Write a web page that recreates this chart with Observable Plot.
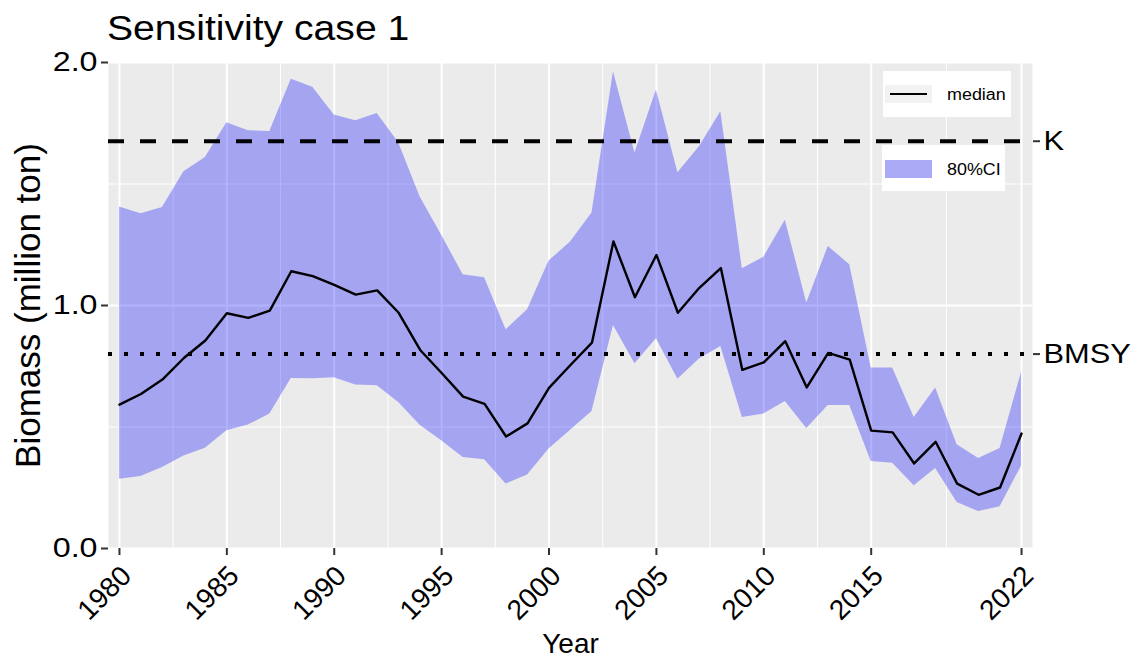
<!DOCTYPE html>
<html><head><meta charset="utf-8">
<script src="https://cdn.jsdelivr.net/npm/d3@7"></script>
<script src="https://cdn.jsdelivr.net/npm/@observablehq/plot@0.6"></script>
<style>
body{margin:0;background:#fff;font-family:"Liberation Sans",Arial,sans-serif;}
#wrap{position:relative;width:1133px;height:662px;overflow:hidden;}
#title{position:absolute;left:107px;top:0;font-size:35px;line-height:1;padding-top:10px;color:#000;white-space:nowrap;transform:scaleX(1.118);transform-origin:0 0;}
#chart{position:absolute;left:0;top:50px;}
.box{position:absolute;background:#fff;}
.key{position:absolute;}
.lab{position:absolute;font-size:16px;line-height:1;color:#000;white-space:nowrap;transform:translateY(-50%) scaleX(1.12);transform-origin:0 50%;}
</style>
</head><body>
<div id="wrap">
  <div id="title">Sensitivity case 1</div>
  <div id="chart"></div>
  <div class="box" style="left:883px;top:71px;width:128px;height:46px;"></div>
  <div class="key" style="left:885px;top:85px;width:47px;height:18px;background:#F2F2F2;"></div>
  <div class="key" style="left:890px;top:93px;width:37px;height:2.2px;background:#000;"></div>
  <div class="lab" id="lab1" style="left:947px;top:95px;"></div>
  <div class="box" style="left:882px;top:145px;width:123px;height:46px;"></div>
  <div class="key" style="left:885px;top:160px;width:47px;height:18px;background:#AAAAF6;"></div>
  <div class="lab" id="lab2" style="left:947px;top:170px;"></div>
</div>
<script>
const years = [1980,1981,1982,1983,1984,1985,1986,1987,1988,1989,1990,1991,1992,1993,1994,1995,1996,1997,1998,1999,2000,2001,2002,2003,2004,2005,2006,2007,2008,2009,2010,2011,2012,2013,2014,2015,2016,2017,2018,2019,2020,2021,2022];
const median = [0.592,0.636,0.695,0.784,0.856,0.968,0.949,0.979,1.141,1.121,1.085,1.045,1.062,0.970,0.817,0.722,0.625,0.595,0.461,0.515,0.661,0.755,0.847,1.264,1.034,1.208,0.970,1.073,1.154,0.735,0.766,0.853,0.663,0.805,0.777,0.485,0.478,0.350,0.439,0.267,0.221,0.251,0.473];
const lower = [0.285,0.296,0.333,0.381,0.413,0.485,0.508,0.553,0.700,0.699,0.703,0.673,0.670,0.601,0.507,0.443,0.375,0.365,0.265,0.302,0.409,0.487,0.564,0.918,0.760,0.863,0.696,0.780,0.831,0.539,0.553,0.605,0.494,0.588,0.588,0.358,0.351,0.258,0.329,0.189,0.152,0.172,0.340];
const upper = [1.405,1.378,1.403,1.550,1.609,1.752,1.719,1.716,1.931,1.898,1.784,1.760,1.790,1.670,1.447,1.289,1.127,1.114,0.900,0.982,1.183,1.261,1.381,1.962,1.628,1.887,1.546,1.653,1.797,1.151,1.199,1.351,1.010,1.243,1.168,0.743,0.743,0.539,0.661,0.427,0.370,0.412,0.725];
const refLevels = [1.676, 0.80];
const refLabels = ["K", "BMSY"];
const xMajor = [1980,1985,1990,1995,2000,2005,2010,2015,2022];
const xMinor = [1982.5,1987.5,1992.5,1997.5,2002.5,2007.5,2012.5,2018.5];
const yMajor = [0, 1, 2];
const yMinor = [0.5, 1.5];
const legendLabels = ["median", "80%CI"];
const xTitle = "Year";
const yTitle = "Biomass (million ton)";

document.getElementById("lab1").textContent = legendLabels[0];
document.getElementById("lab2").textContent = legendLabels[1];

const data = years.map((year, i) => ({year, median: median[i], lo: lower[i], hi: upper[i]}));
const font = '"Liberation Sans", Arial, sans-serif';

const chart = Plot.plot({
  width: 1133, height: 612,
  marginTop: 12, marginBottom: 114, marginLeft: 108, marginRight: 101,
  x: {domain: [1979.49, 2022.51], axis: null},
  y: {domain: [0, 2], axis: null},
  style: {fontFamily: font, background: "transparent", color: "#000", overflow: "visible"},
  marks: [
    Plot.frame({fill: "#EBEBEB", stroke: null}),
    Plot.ruleX(xMinor, {stroke: "#fff", strokeWidth: 1}),
    Plot.ruleY(yMinor, {stroke: "#fff", strokeWidth: 1}),
    Plot.ruleX(xMajor, {stroke: "#fff", strokeWidth: 2}),
    Plot.ruleY(yMajor, {stroke: "#fff", strokeWidth: 2}),
    Plot.areaY(data, {x: "year", y1: "lo", y2: "hi", fill: "blue", fillOpacity: 0.3}),
    Plot.ruleY([refLevels[0]], {stroke: "#000", strokeWidth: 4, strokeDasharray: "16,16"}),
    Plot.ruleY([refLevels[1]], {stroke: "#000", strokeWidth: 4, strokeDasharray: "4,12"}),
    Plot.line(data, {x: "year", y: "median", stroke: "#000", strokeWidth: 2.4}),
    Plot.axisY(yMajor, {anchor: "left", tickSize: 7, tickPadding: 4, tickFormat: d3.format(".1f"), fontSize: 28, stroke: "#333", strokeWidth: 2, fill: "#000", label: null}),
    Plot.axisY(refLevels, {anchor: "right", tickSize: 7, tickPadding: 4, tickFormat: d => refLabels[refLevels.indexOf(d)], fontSize: 28, stroke: "#333", strokeWidth: 2, fill: "#000", label: null}),
    Plot.axisX(xMajor, {anchor: "bottom", tickSize: 7, stroke: "#333", strokeWidth: 2, tickFormat: () => "", label: null}),
    Plot.text(xMajor, {x: d => d, frameAnchor: "bottom", text: d => String(d), rotate: -45, textAnchor: "end", lineAnchor: "top", dy: 15, dx: -0.5, fontSize: 28, fill: "#000"}),
    Plot.text([xTitle], {frameAnchor: "bottom", dy: 104, text: d => d, fontSize: 28, fill: "#000"}),
    Plot.text([yTitle], {frameAnchor: "left", dx: -80, rotate: -90, textAnchor: "middle", text: d => d, fontSize: 35, fill: "#000"})
  ]
});
document.getElementById("chart").appendChild(chart);

// widen horizontal axis labels slightly (the reference renders text a little wide)
chart.querySelectorAll('g[aria-label="y-axis tick label"] text').forEach(t => {
  const anchorRight = t.closest("g").getAttribute("text-anchor") === "end";
  const factor = anchorRight ? 1.15 : 1.1;
  const len = t.getComputedTextLength();
  t.setAttribute("textLength", (len * factor).toFixed(2));
  t.setAttribute("lengthAdjust", "spacingAndGlyphs");
});
</script>
</body></html>
